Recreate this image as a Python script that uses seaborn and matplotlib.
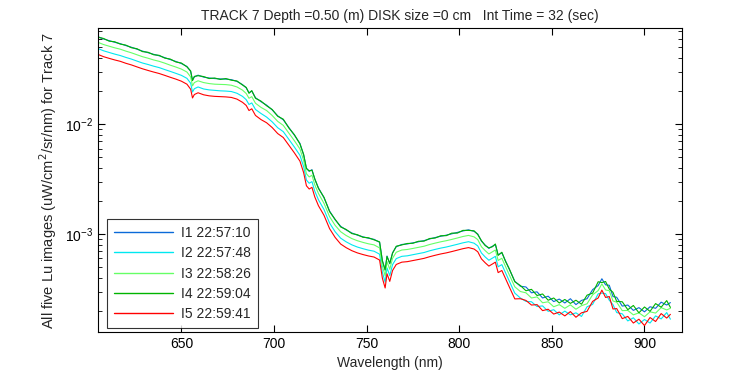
import numpy as np
import pandas as pd
import matplotlib
matplotlib.use("Agg")
import matplotlib.pyplot as plt
import seaborn as sns

# ------------------------
# Data
# ------------------------

wavelength = [
    605, 608, 611, 614, 617, 620, 623, 626, 629, 632, 635, 638, 641, 644, 647,
    650, 653, 655, 656, 657, 659, 662, 665, 668, 671, 674, 677, 680, 683, 685,
    686.5, 688, 690, 693, 696, 699, 702, 705, 708, 711, 714, 716, 717.5, 719,
    720.5, 722, 724, 727, 730, 733, 736, 739, 742, 745, 748, 751, 754, 757,
    758.5, 760, 761, 762.5, 764, 766, 769, 772, 775, 778, 781, 784, 787, 790,
    793, 796, 799, 802, 805, 808, 810, 812, 814, 816, 818, 819.5, 821, 823,
    825, 827, 830, 833, 836, 839, 842, 845, 848, 851, 854, 857, 860, 863, 866,
    869, 872, 875, 877, 879, 881, 883, 885, 888, 891, 894, 897, 900, 903, 906,
    909, 912, 914,
]

lu_i1 = [
    .0624, .0596, .0575, .0556, .0540, .0519, .0501, .0481, .0462, .0447, .0432, .0419, .0403, .0387, .0372,
    .0356, .0335, .0302, .0251, .0269, .0279, .0268, .0263, .0260, .0258, .0257, .0254, .0245, .0229, .0214,
    .0193, .0200, .0174, .0160, .0149, .0135, .0119, .01096, .00933, .00794, .00668, .00525, .00398, .00372,
    .00385, .00316, .00263, .00214, .00162, .00135, .001175, .001089, .001023, .000977, .000944, .000916, .000895, .000841,
    .000575, .000468, .000631, .000537, .000676, .000767, .000804, .000813, .000832, .000851, .000871, .000902, .000929, .000955,
    .000977, .001005, .001035, .001067, .001092, .001059, .001000, .000861, .000794, .000741, .000776, .000804, .000646, .000676,
    .000569, .000479, .000372, .000335, .000330, .000292, .000298, .000262, .000272, .000243, .000256, .000236, .000258, .000228, .000249,
    .000258, .000312, .000340, .000392, .000345, .000342, .000270, .000266, .000221, .000226, .000202, .000214, .000196, .000218, .000211,
    .000240, .000226, .000238,
]

lu_i2 = [
    .0487, .0465, .0449, .0434, .0421, .0405, .0391, .0375, .0360, .0349, .0337, .0327, .0314, .0302, .0290,
    .0278, .0261, .0236, .0196, .0210, .0218, .0209, .0205, .0203, .0201, .0200, .0198, .0191, .0179, .0167,
    .0151, .0156, .0136, .0125, .0116, .0105, .00928, .00855, .00728, .00619, .00521, .00410, .00310, .00290,
    .00300, .00246, .00205, .00167, .00126, .00105, .000917, .000849, .000798, .000762, .000736, .000714, .000698, .000656,
    .000449, .000365, .000492, .000419, .000527, .000598, .000627, .000634, .000649, .000664, .000679, .000704, .000725, .000745,
    .000762, .000784, .000807, .000832, .000852, .000826, .000780, .000672, .000619, .000578, .000605, .000627, .000504, .000527,
    .000444, .000374, .000290, .000262, .000244, .000242, .000219, .000222, .000198, .000205, .000184, .000199, .000184, .000192, .000178,
    .000218, .000229, .000286, .000290, .000287, .000250, .000228, .000193, .000188, .000162, .000173, .000152, .000167, .000155, .000180,
    .000169, .000193, .000168,
]

lu_i3 = [
    .0555, .0530, .0512, .0495, .0481, .0462, .0446, .0428, .0411, .0398, .0384, .0373, .0359, .0344, .0331,
    .0317, .0298, .0269, .0223, .0239, .0248, .0239, .0234, .0231, .0230, .0229, .0226, .0218, .0204, .0190,
    .0172, .0178, .0155, .0142, .0133, .0120, .0106, .00975, .00830, .00707, .00595, .00467, .00354, .00331,
    .00343, .00281, .00234, .00190, .00144, .00120, .00105, .000969, .000910, .000870, .000840, .000815, .000797, .000748,
    .000512, .000417, .000562, .000478, .000602, .000683, .000716, .000724, .000740, .000757, .000775, .000803, .000827, .000850,
    .000870, .000894, .000921, .000950, .000972, .000943, .000890, .000766, .000707, .000659, .000691, .000716, .000575, .000602,
    .000506, .000426, .000331, .000300, .000292, .000262, .000268, .000237, .000242, .000218, .000228, .000211, .000227, .000207, .000223,
    .000232, .000280, .000306, .000352, .000310, .000305, .000246, .000240, .000201, .000202, .000184, .000192, .000177, .000196, .000191,
    .000214, .000204, .000211,
]

lu_i4 = [
    .0618, .0602, .0569, .0562, .0535, .0524, .0496, .0486, .0457, .0451, .0428, .0423, .0399, .0391, .0368,
    .0360, .0332, .0305, .0249, .0272, .0276, .0271, .0260, .0263, .0255, .0260, .0251, .0247, .0227, .0216,
    .0191, .0202, .0172, .0162, .0147, .0136, .0118, .0111, .00924, .00802, .00661, .00530, .00394, .00376,
    .00381, .00319, .00260, .00216, .00160, .00136, .00116, .00110, .00101, .000987, .000935, .000925, .000886, .000849,
    .000569, .000473, .000625, .000542, .000669, .000775, .000796, .000821, .000824, .000860, .000862, .000911, .000920, .000965,
    .000967, .00102, .00102, .00108, .00108, .00107, .000990, .000870, .000786, .000748, .000768, .000812, .000640, .000683,
    .000563, .000484, .000368, .000340, .000305, .000314, .000276, .000285, .000250, .000262, .000236, .000254, .000234, .000250, .000230,
    .000278, .000290, .000368, .000362, .000370, .000316, .000295, .000244, .000242, .000205, .000224, .000192, .000217, .000198, .000233,
    .000216, .000248, .000215,
]

lu_i5 = [
    .0431, .0411, .0397, .0384, .0373, .0358, .0346, .0332, .0319, .0308, .0298, .0289, .0278, .0267, .0257,
    .0246, .0231, .0208, .0173, .0186, .0193, .0185, .0181, .0179, .0178, .0177, .0175, .0169, .0158, .0148,
    .0133, .0138, .0120, .0110, .0103, .00932, .00821, .00756, .00644, .00548, .00461, .00362, .00275, .00257,
    .00266, .00218, .00181, .00148, .00112, .000932, .000811, .000751, .000706, .000674, .000651, .000632, .000618, .000580,
    .000397, .000323, .000435, .000371, .000466, .000529, .000555, .000561, .000574, .000587, .000601, .000622, .000641, .000659,
    .000674, .000693, .000714, .000736, .000753, .000731, .000690, .000594, .000548, .000511, .000535, .000555, .000446, .000466,
    .000393, .000331, .000257, .000258, .000249, .000226, .000228, .000201, .000207, .000187, .000195, .000180, .000197, .000175, .000192,
    .000198, .000244, .000262, .000309, .000265, .000270, .000208, .000210, .000170, .000178, .000155, .000168, .000147, .000174, .000160,
    .000189, .000172, .000186,
]

labels = ["I1 22:57:10", "I2 22:57:48", "I3 22:58:26", "I4 22:59:04", "I5 22:59:41"]
colors = ["#0a6ad8", "#00e8f0", "#66ff66", "#00b400", "#ff0000"]

# ------------------------
# Long-form table for seaborn
# ------------------------

frames = []
for lab, vals in zip(labels, [lu_i1, lu_i2, lu_i3, lu_i4, lu_i5]):
    frames.append(pd.DataFrame({"Wavelength": wavelength, "Lu": vals, "Image": lab}))
df = pd.concat(frames, ignore_index=True)

# ------------------------
# Plot
# ------------------------

sns.set_style("ticks")
plt.rcParams["font.family"] = ["Liberation Sans", "DejaVu Sans"]
plt.rcParams["font.size"] = 10

fig = plt.figure(figsize=(7.5, 3.75), dpi=100)
ax = fig.add_axes([0.1307, 0.1147, 0.778, 0.81])

sns.lineplot(
    data=df, x="Wavelength", y="Lu", hue="Image",
    palette=dict(zip(labels, colors)), hue_order=labels,
    linewidth=0.8, ax=ax, estimator=None, sort=False,
)

ax.set_yscale("log")
ax.set_xlim(605, 920)
ax.set_ylim(1.285e-4, 0.0746)
ax.set_xticks([650, 700, 750, 800, 850, 900])

for s in ax.spines.values():
    s.set_linewidth(0.8)
    s.set_color("black")
ax.tick_params(which="both", direction="in", top=True, right=True, colors="black", labelsize=10)
ax.tick_params(which="major", length=5)
ax.tick_params(which="minor", length=3)

ax.set_xlabel("Wavelength (nm)", fontsize=10)
ax.set_ylabel("All five Lu images (uW/cm$^2$/sr/nm) for Track 7", fontsize=10.5)
ax.set_title("TRACK 7 Depth =0.50 (m) DISK size =0 cm   Int Time = 32 (sec)", fontsize=10, x=0.517)

leg = ax.legend(
    loc="lower left", bbox_to_anchor=(0.015, 0.013), borderaxespad=0,
    frameon=True, fancybox=False, handlelength=4.3, handletextpad=0.55,
    fontsize=10, labelspacing=0.45, borderpad=0.5,
)
leg.get_frame().set_edgecolor("black")
leg.get_frame().set_linewidth(0.8)
for line in leg.get_lines():
    line.set_linewidth(1.0)

plt.savefig("out.png", dpi=100)
print("saved")
